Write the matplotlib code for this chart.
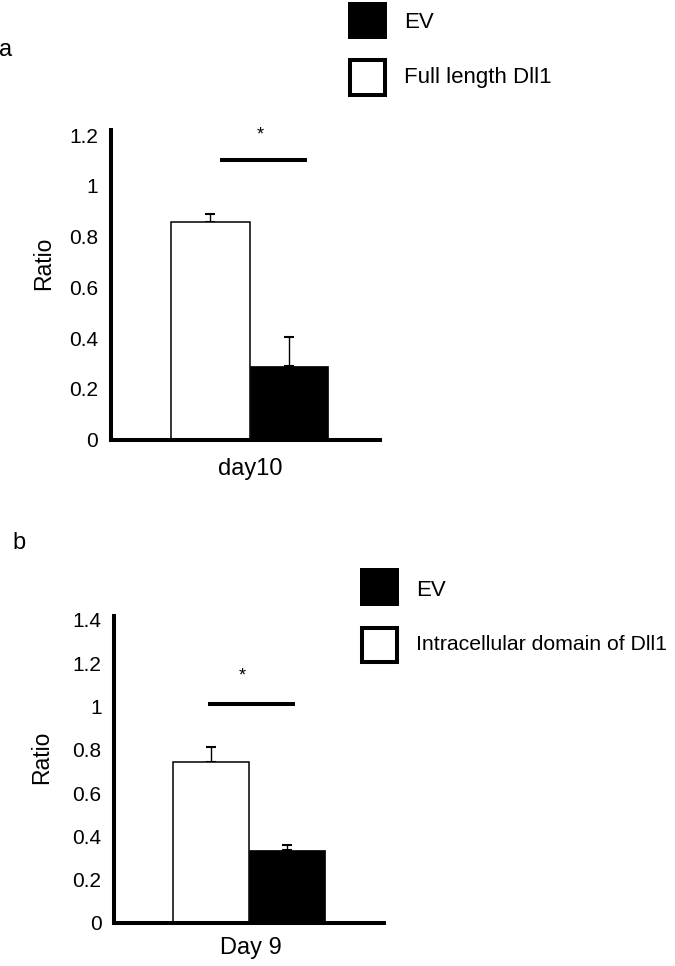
import matplotlib.pyplot as plt
from matplotlib.patches import Rectangle

plt.rcParams['font.family'] = ['Liberation Sans', 'DejaVu Sans']

# panel a
groups_a = ['EV', 'Full length Dll1']
category_a = 'day10'
values_a = [0.858, 0.288]       # Full length Dll1, EV
errors_a = [0.031, 0.115]
ticks_a = [0, 0.2, 0.4, 0.6, 0.8, 1, 1.2]

# panel b
groups_b = ['EV', 'Intracellular domain of Dll1']
category_b = 'Day 9'
values_b = [0.744, 0.337]       # Intracellular domain, EV
errors_b = [0.069, 0.023]
ticks_b = [0, 0.2, 0.4, 0.6, 0.8, 1, 1.2, 1.4]

sig_a = 1.103
sig_b = 1.01

W, H = 675, 966
fig = plt.figure(figsize=(W / 100, H / 100), dpi=100)


def fx(x):
    return x / W


def fy(y):
    return 1 - y / H


def make_axes(left, right, y0, top):
    return fig.add_axes([fx(left), fy(y0), fx(right - left), (y0 - top) / H])


def style(ax, ticks, ymax):
    ax.set_xlim(0, 1)
    ax.set_ylim(0, ymax)
    ax.set_yticks(ticks)
    ax.set_yticklabels(['%g' % t for t in ticks])
    for s in ['top', 'right']:
        ax.spines[s].set_visible(False)
    for s in ['left', 'bottom']:
        ax.spines[s].set_linewidth(2.9)
        ax.spines[s].set_capstyle('projecting')
        ax.spines[s].set_zorder(5)
    ax.tick_params(axis='y', length=0, pad=9, labelsize=15)
    ax.tick_params(axis='x', length=0, labelsize=17)


def draw(ax, vals, errs, centre, width, tick_x, label, sig, sig_x, star_x, star_y):
    xs = [centre - width / 2, centre + width / 2]
    ax.bar(xs[0], vals[0], width=width, color='white', edgecolor='black', linewidth=1.1, zorder=2)
    ax.bar(xs[1], vals[1], width=width, color='black', edgecolor='black', linewidth=0.5, zorder=2)
    for x, v, e in zip(xs, vals, errs):
        ax.errorbar(x, v, yerr=[[0], [e]], fmt='none', ecolor='black', elinewidth=1.0,
                    capsize=3.6, capthick=1.5, zorder=1)
    ax.plot(sig_x, [sig, sig], color='black', linewidth=2.9, solid_capstyle='butt', clip_on=False)
    ax.text(star_x, star_y, '*', ha='center', va='center', fontsize=13, clip_on=False)
    ax.set_xticks([tick_x])
    ax.set_xticklabels([label])


# panel a
ax1 = make_axes(110.5, 380, 439.5, 130)
style(ax1, ticks_a, 1.22)
draw(ax1, values_a, errors_a, 0.516, 0.29, 0.52, category_a, sig_a, [0.406, 0.729], 0.555, 1.2)
ax1.tick_params(axis='x', pad=13)

# panel b
ax2 = make_axes(114, 384, 923, 615.6)
style(ax2, ticks_b, 1.42)
draw(ax2, values_b, errors_b, 0.5, 0.283, 0.507, category_b, sig_b, [0.348, 0.67], 0.474, 1.14)
ax2.tick_params(axis='x', pad=10)

# axis titles and panel letters
fig.text(fx(44), fy(263), 'Ratio', rotation=90, ha='center', va='center', fontsize=16.5)
fig.text(fx(42), fy(757), 'Ratio', rotation=90, ha='center', va='center', fontsize=16.5)
fig.text(fx(6), fy(50), 'a', ha='center', va='center', fontsize=17)
fig.text(fx(19), fy(543), 'b', ha='center', va='center', fontsize=17)


# legends drawn as figure boxes
def legend_box(x, y, w, h, face, lw):
    fig.patches.append(Rectangle((fx(x), fy(y + h)), w / W, h / H, transform=fig.transFigure,
                                 facecolor=face, edgecolor='black', linewidth=lw))


legend_box(348, 2, 39, 37, 'black', 0)
legend_box(350, 60, 35, 35, 'white', 2.9)
fig.text(fx(404), fy(23), groups_a[0], ha='left', va='center', fontsize=16)
fig.text(fx(404), fy(77), groups_a[1], ha='left', va='center', fontsize=16)

legend_box(360, 568, 39, 38, 'black', 0)
legend_box(362, 628, 35, 34, 'white', 2.9)
fig.text(fx(416), fy(590), groups_b[0], ha='left', va='center', fontsize=16)
fig.text(fx(416), fy(645), groups_b[1], ha='left', va='center', fontsize=15.3)

fig.savefig('out.png', dpi=100, facecolor='white')
